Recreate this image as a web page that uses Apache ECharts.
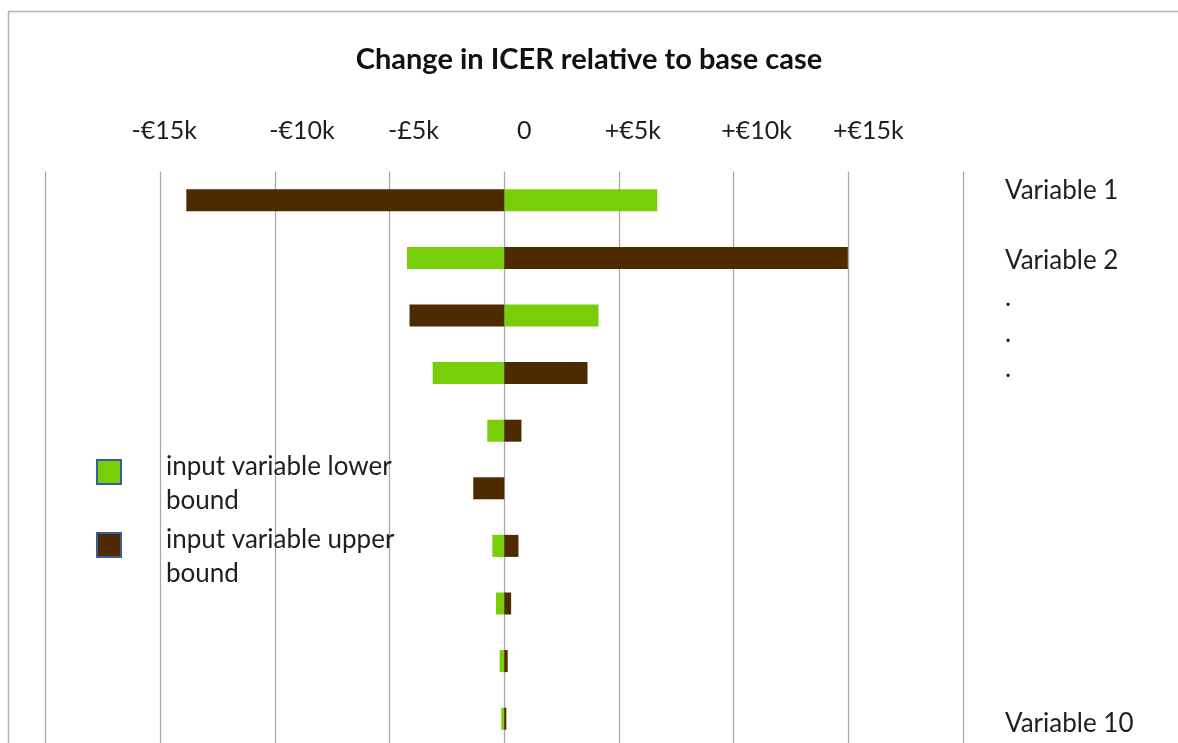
<!DOCTYPE html>
<html>
<head>
<meta charset="utf-8">
<script src="https://cdn.jsdelivr.net/npm/echarts@6/dist/echarts.min.js"></script>
<style>
  html, body { margin: 0; padding: 0; background: #fff; }
  #chart { width: 1178px; height: 743px; }
</style>
</head>
<body>
<div id="chart"></div>
<script>
// rows, top to bottom
const variables = ['Variable 1', 'Variable 2', '.', '.', '.', '', '', '', '', 'Variable 10'];
// change in ICER (€) at each bound
const lowerBound = [6670, -4240, 4110, -3120, -740, 0, -520, -360, -200, -130];
const upperBound = [-13860, 14980, -4130, 3630, 750, -1350, 620, 300, 150, 90];

const xMin = -20000;
const xMax = 20000;
const xStep = 5000;
const tickLabels = ['', '-€15k', '-€10k', '-£5k', '0', '+€5k', '+€10k', '+€15k', ''];

// hand-placed text offsets in the original (px)
const tickShift = [0, 4, 27, 24, 20, 14, 23, 20, 0];
const rowLift = [10, -3, 18, 39, 62, 0, 0, 0, 0, -5];

const FONT = 'Lato, "Open Sans", sans-serif';
const TEXT = '#1f1f1f';

const chart = echarts.init(document.getElementById('chart'));

// top labels: shift right with left padding (centered text)
const xRich = {};
tickShift.forEach((s, i) => {
  xRich['s' + i] = { padding: [0, 0, 0, s * 2] };
});

// right labels: push up / down with an invisible spacer line
const yRich = {};
rowLift.forEach((l, i) => {
  const h = Math.max(Math.abs(l) * 2, 1);
  yRich['g' + i] = { height: h, lineHeight: h, fontSize: 1 };
});

const option = {
  backgroundColor: '#fff',
  title: {
    text: 'Change in ICER relative to base case',
    left: 'center',
    top: 40,
    textStyle: { fontFamily: FONT, fontSize: 29, fontWeight: 'bold', color: '#111' }
  },
  legend: {
    orient: 'vertical',
    left: 96,
    top: 426,
    padding: 0,
    itemWidth: 24,
    itemHeight: 24,
    itemGap: -19,
    selectedMode: false,
    itemStyle: { borderColor: '#3B5D9A', borderWidth: 2 },
    formatter: (name) => '{g| }\n' + name,
    textStyle: {
      fontFamily: FONT, fontSize: 26, color: TEXT,
      lineHeight: 34, padding: [0, 0, 0, 40],
      rich: { g: { height: 24, lineHeight: 24, fontSize: 1 } }
    },
    data: [
      { name: 'input variable lower\nbound', icon: 'rect' },
      { name: 'input variable upper\nbound', icon: 'rect' }
    ]
  },
  graphic: [{
    type: 'rect',
    z: -10,
    silent: true,
    shape: { x: 8.5, y: 11.5, width: 1300, height: 900 },
    style: { fill: 'none', stroke: '#B4B4B4', lineWidth: 1.5 }
  }],
  grid: { left: 45.5, width: 917.5, top: 171.5, height: 576, outerBoundsMode: 'none' },
  xAxis: {
    type: 'value',
    position: 'top',
    min: xMin,
    max: xMax,
    interval: xStep,
    axisLine: { show: false },
    axisTick: { show: false },
    splitLine: { show: true, lineStyle: { color: '#A8A8A8', width: 1.3 } },
    axisLabel: {
      margin: 28,
      fontFamily: FONT,
      fontSize: 25,
      color: TEXT,
      showMinLabel: true,
      showMaxLabel: true,
      formatter: (v) => {
        const i = Math.round((v - xMin) / xStep);
        return tickLabels[i] ? '{s' + i + '|' + tickLabels[i] + '}' : '';
      },
      rich: xRich
    }
  },
  yAxis: {
    type: 'category',
    inverse: true,
    position: 'right',
    data: variables,
    axisLine: { show: false },
    axisTick: { show: false },
    axisLabel: {
      margin: 42,
      align: 'left',
      fontFamily: FONT,
      fontSize: 26,
      color: TEXT,
      interval: 0,
      formatter: (v, i) => {
        if (!v) return '';
        const l = rowLift[i];
        if (l > 0) return v + '\n{g' + i + '| }';
        if (l < 0) return '{g' + i + '| }\n' + v;
        return v;
      },
      rich: yRich
    }
  },
  series: [
    {
      name: 'input variable lower\nbound',
      type: 'bar',
      barWidth: 22,
      barGap: '-100%',
      itemStyle: { color: '#78CE08' },
      data: lowerBound
    },
    {
      name: 'input variable upper\nbound',
      type: 'bar',
      barWidth: 22,
      barGap: '-100%',
      itemStyle: { color: '#4E2A00' },
      data: upperBound
    }
  ]
};

chart.setOption(option);
window.addEventListener('resize', () => chart.resize());
</script>
</body>
</html>
